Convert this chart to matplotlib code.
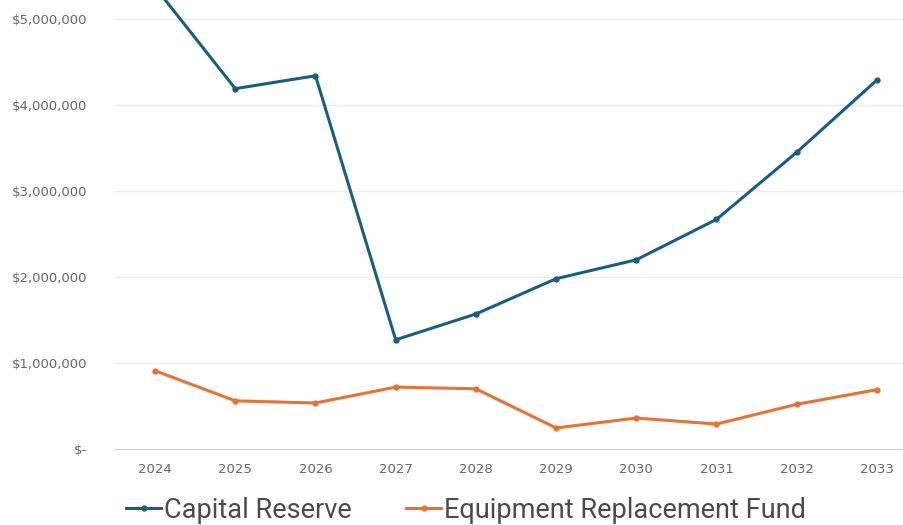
import matplotlib
matplotlib.use('Agg')
from matplotlib import pyplot as plt
from matplotlib.ticker import FuncFormatter

years = ['2024', '2025', '2026', '2027', '2028', '2029', '2030', '2031', '2032', '2033']
capital_reserve = [5370000, 4190000, 4340000, 1270000, 1570000, 1980000, 2200000, 2670000, 3450000, 4290000]
equipment_fund = [910000, 560000, 535000, 720000, 700000, 245000, 360000, 290000, 520000, 690000]

blue = '#156082'
orange = '#E97132'

def money(v, pos):
    if v == 0:
        return '$-'
    return '${:,.0f}'.format(v)

W, H = 904, 525
fig = plt.figure(figsize=(W/100, H/100), dpi=100)
ax = fig.add_axes([115/W, 1-449/H, 802/W, 449/H])

x = range(len(years))
ax.plot(x, capital_reserve, color=blue, lw=2.2, marker='o', ms=3.5, label='Capital Reserve', zorder=3)
ax.plot(x, equipment_fund, color=orange, lw=2.2, marker='o', ms=3.5, label='Equipment Replacement Fund', zorder=3)

ax.set_xlim(-0.5, len(years)-0.5)
ax.set_ylim(0, 449/86*1e6)
ax.set_yticks([0, 1e6, 2e6, 3e6, 4e6, 5e6])
ax.yaxis.set_major_formatter(FuncFormatter(money))
ax.set_xticks(list(x))
ax.set_xticklabels(years)
ax.grid(axis='y', color='#ececec', lw=1)
ax.set_axisbelow(True)
for s in ['top', 'right', 'left']:
    ax.spines[s].set_visible(False)
ax.spines['bottom'].set_color('#d0d0d0')
ax.tick_params(length=0, colors='#666666', labelsize=9.5)
ax.tick_params(axis='y', pad=20)
ax.tick_params(axis='x', pad=10)

fig.legend(loc='center', bbox_to_anchor=(466/W, 1-510/H), ncol=2, frameon=False,
           handlelength=1.3, handletextpad=0.1, columnspacing=2.0,
           prop={'family': ['Roboto', 'DejaVu Sans'], 'size': 19.5},
           labelcolor='#4a4a4a')

plt.savefig('out.png', dpi=100)
